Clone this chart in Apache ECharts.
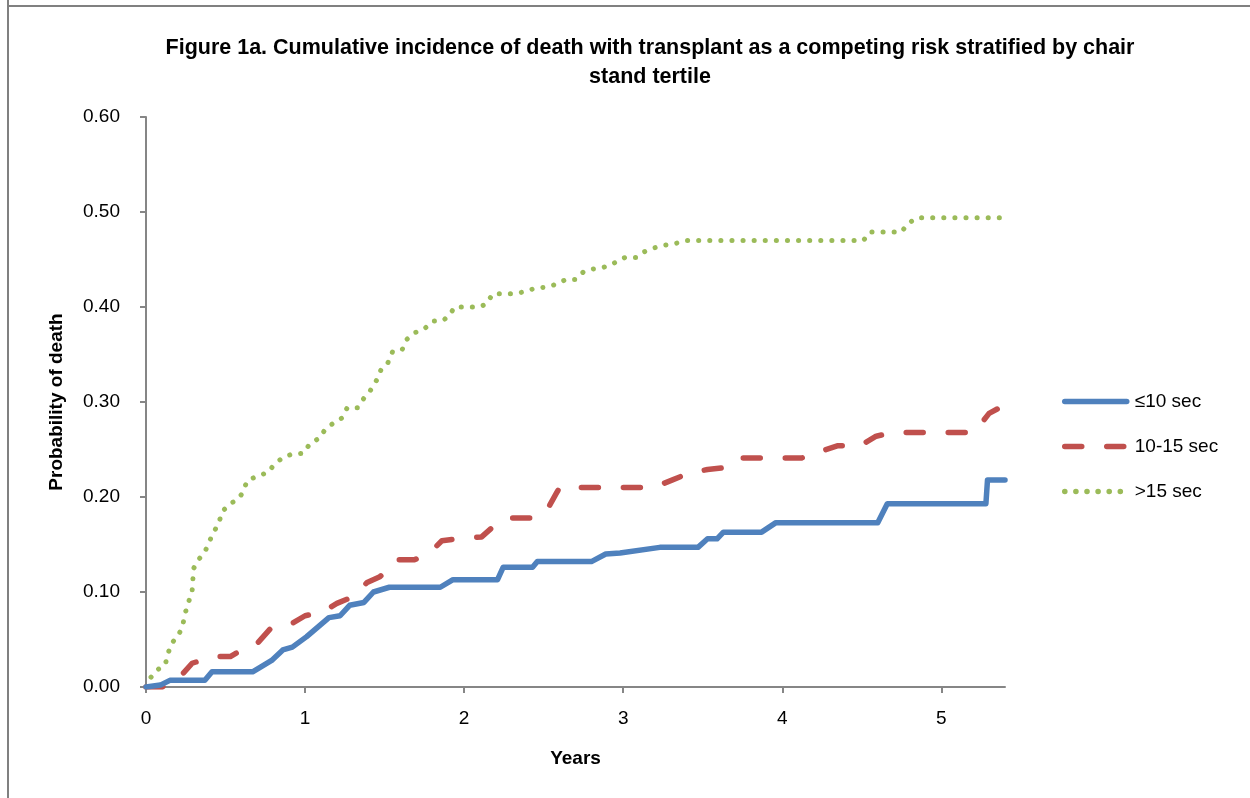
<!DOCTYPE html>
<html>
<head>
<meta charset="utf-8">
<script src="https://cdn.jsdelivr.net/npm/echarts@6/dist/echarts.min.js"></script>
<style>
html,body{margin:0;padding:0;background:#fff;}
#chart{width:1250px;height:798px;}
</style>
</head>
<body>
<div id="chart"></div>
<script>
// ---- data (years, cumulative probability of death) ----
const seriesNames = ['≤10 sec', '10-15 sec', '>15 sec'];
const xTickLabels = [0, 1, 2, 3, 4, 5];
const yTickLabels = [0, 0.1, 0.2, 0.3, 0.4, 0.5, 0.6];

const lowTertile = [
  [0,0],[0.09,0.002],[0.15,0.007],[0.37,0.007],[0.415,0.016],[0.67,0.016],[0.72,0.021],
  [0.79,0.028],[0.86,0.039],[0.92,0.042],[1.01,0.053],[1.08,0.063],[1.15,0.073],[1.22,0.075],
  [1.28,0.086],[1.37,0.089],[1.43,0.100],[1.53,0.105],[1.85,0.105],[1.93,0.113],[2.21,0.113],
  [2.245,0.126],[2.43,0.126],[2.46,0.132],[2.80,0.132],[2.89,0.140],[2.98,0.141],[3.23,0.147],
  [3.47,0.147],[3.53,0.156],[3.59,0.156],[3.63,0.163],[3.87,0.163],[3.96,0.173],[4.60,0.173],
  [4.66,0.193],[5.28,0.193],[5.29,0.218],[5.40,0.218]
];
const midTertile = [
  [0,0],[0.10,0],[0.21,0.010],[0.29,0.025],[0.42,0.032],[0.53,0.032],[0.62,0.041],[0.70,0.046],
  [0.78,0.061],[0.89,0.064],[1.00,0.075],[1.11,0.079],[1.20,0.088],[1.30,0.095],[1.39,0.110],
  [1.47,0.116],[1.58,0.134],[1.69,0.134],[1.80,0.144],[1.86,0.154],[2.00,0.157],[2.11,0.158],
  [2.19,0.170],[2.29,0.178],[2.43,0.178],[2.52,0.186],[2.58,0.204],[2.60,0.210],[3.19,0.210],
  [3.31,0.218],[3.41,0.225],[3.53,0.229],[3.65,0.231],[3.74,0.241],[4.12,0.241],[4.24,0.248],
  [4.35,0.254],[4.49,0.254],[4.59,0.264],[4.70,0.268],[5.20,0.268],[5.23,0.273],[5.30,0.288],
  [5.40,0.297]
];
const highTertile = [
  [0,0],[0.025,0.009],[0.07,0.018],[0.12,0.023],[0.14,0.036],[0.16,0.046],[0.20,0.053],
  [0.23,0.064],[0.245,0.077],[0.265,0.088],[0.29,0.101],[0.295,0.114],[0.30,0.125],[0.33,0.134],
  [0.37,0.142],[0.40,0.154],[0.43,0.164],[0.46,0.174],[0.48,0.185],[0.53,0.193],[0.58,0.198],
  [0.61,0.205],[0.635,0.217],[0.70,0.222],[0.77,0.226],[0.80,0.233],[0.855,0.241],[0.915,0.245],
  [0.99,0.246],[1.03,0.256],[1.09,0.262],[1.13,0.272],[1.18,0.278],[1.23,0.283],[1.265,0.294],
  [1.33,0.294],[1.37,0.304],[1.41,0.312],[1.45,0.323],[1.48,0.335],[1.52,0.341],[1.55,0.353],
  [1.61,0.355],[1.64,0.366],[1.69,0.373],[1.75,0.377],[1.80,0.385],[1.87,0.386],[1.91,0.392],
  [1.94,0.400],[2.09,0.400],[2.14,0.403],[2.18,0.414],[2.31,0.414],[2.38,0.416],[2.45,0.420],
  [2.52,0.421],[2.58,0.424],[2.64,0.429],[2.70,0.429],[2.75,0.437],[2.81,0.440],[2.88,0.442],
  [2.94,0.446],[3.01,0.452],[3.08,0.452],[3.13,0.458],[3.19,0.462],[3.26,0.465],[3.33,0.467],
  [3.40,0.470],[4.51,0.470],[4.55,0.479],[4.75,0.479],[4.79,0.488],[4.85,0.494],[5.40,0.494]
];

const FONT = '"Liberation Sans", Arial, sans-serif';
const axisColor = '#868686';

const chart = echarts.init(document.getElementById('chart'), null, {renderer: 'canvas'});
chart.setOption({
  backgroundColor: '#ffffff',
  animation: false,
  title: {
    text: 'Figure 1a. Cumulative incidence of death with transplant as a competing risk stratified by chair\nstand tertile',
    left: 645,
    top: 29,
    textAlign: 'center',
    textStyle: {fontFamily: FONT, fontWeight: 'bold', fontSize: 21.5, color: '#000', lineHeight: 29}
  },
  graphic: [
    {type: 'line', shape: {x1: 8, y1: 0, x2: 8, y2: 798}, style: {stroke: '#808080', lineWidth: 2}},
    {type: 'line', shape: {x1: 7, y1: 6, x2: 1250, y2: 6}, style: {stroke: '#808080', lineWidth: 2}}
  ],
  legend: {
    orient: 'vertical',
    left: 1057,
    top: 387,
    itemWidth: 62,
    itemHeight: 16,
    itemGap: 26,
    data: seriesNames,
    itemStyle: {opacity: 0},
    textStyle: {fontFamily: FONT, fontSize: 19, color: '#000', padding: [0, 0, 0, 3]}
  },
  grid: {left: 146, right: 245, top: 117, bottom: 111, containLabel: false},
  xAxis: {
    type: 'value',
    min: 0,
    max: 5.4,
    interval: 1,
    name: 'Years',
    nameLocation: 'middle',
    nameGap: 62,
    nameTextStyle: {fontFamily: FONT, fontWeight: 'bold', fontSize: 19, color: '#000'},
    axisLine: {show: true, onZero: false, lineStyle: {color: axisColor, width: 2}},
    axisTick: {show: true, length: 6, lineStyle: {color: axisColor, width: 2}, customValues: xTickLabels},
    axisLabel: {fontFamily: FONT, fontSize: 19, color: '#000', margin: 22, customValues: xTickLabels},
    splitLine: {show: false}
  },
  yAxis: {
    type: 'value',
    min: 0,
    max: 0.6,
    interval: 0.1,
    name: 'Probability of death',
    nameLocation: 'middle',
    nameGap: 80,
    nameRotate: 90,
    nameTextStyle: {fontFamily: FONT, fontWeight: 'bold', fontSize: 19, color: '#000'},
    axisLine: {show: true, lineStyle: {color: axisColor, width: 2}},
    axisTick: {show: true, length: 6, lineStyle: {color: axisColor, width: 2}},
    axisLabel: {fontFamily: FONT, fontSize: 19, color: '#000', margin: 26,
      formatter: v => v.toFixed(2)},
    splitLine: {show: false}
  },
  series: [
    {
      name: seriesNames[0], type: 'line', data: lowTertile, symbol: 'none', z: 3,
      lineStyle: {color: '#4F81BD', width: 5.5, cap: 'round', join: 'round'},
      itemStyle: {color: '#4F81BD'}
    },
    {
      name: seriesNames[1], type: 'line', data: midTertile, symbol: 'none', z: 2,
      lineStyle: {color: '#C0504D', width: 5.5, type: [17, 25], cap: 'round', join: 'round'},
      itemStyle: {color: '#C0504D'}
    },
    {
      name: seriesNames[2], type: 'line', data: highTertile, symbol: 'none', z: 1,
      lineStyle: {color: '#9BBB59', width: 5, type: [0.1, 11], cap: 'round', join: 'round'},
      itemStyle: {color: '#9BBB59'}
    }
  ]
});
// legend lines drawn with the series widths
chart.setOption({
  legend: {
    lineStyle: {width: 5.5, cap: 'round'}
  }
});
</script>
</body>
</html>
